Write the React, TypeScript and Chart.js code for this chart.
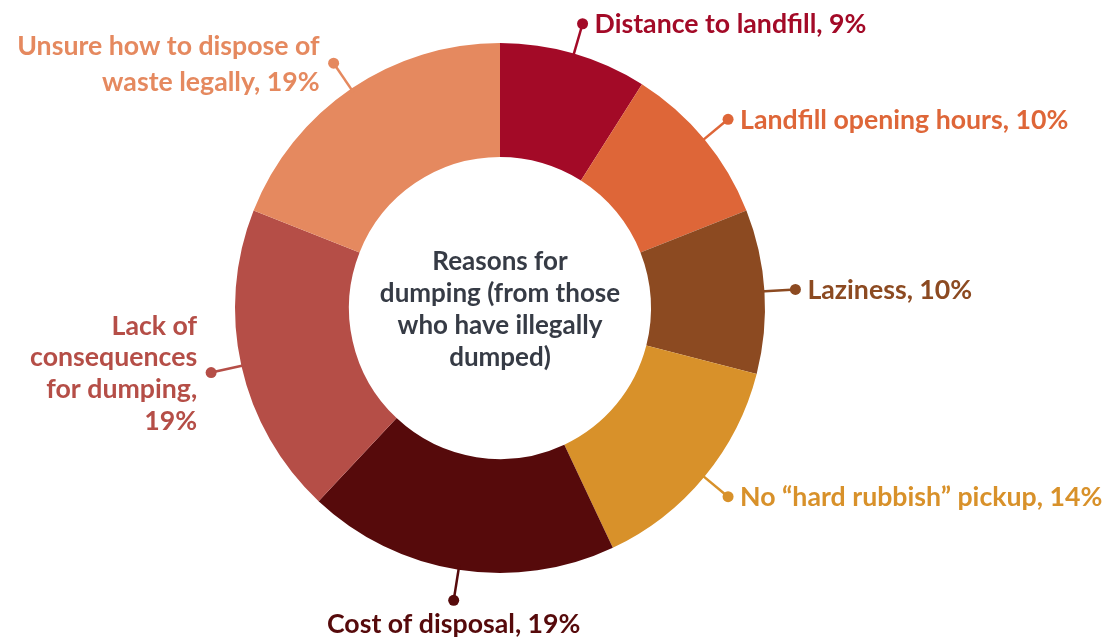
import React, { useEffect, useRef } from "react";
import { Chart, registerables } from "chart.js";

Chart.register(...registerables);

const categories: string[][] = [
  ["Distance to landfill, 9%"],
  ["Landfill opening hours, 10%"],
  ["Laziness, 10%"],
  ["No \u201chard rubbish\u201d pickup, 14%"],
  ["Cost of disposal, 19%"],
  ["Lack of", "consequences", "for dumping,", "19%"],
  ["Unsure how to dispose of", "waste legally, 19%"],
];
const values: number[] = [9, 10, 10, 14, 19, 19, 19];
const colors: string[] = ["#A30A27", "#DE6638", "#8C4A21", "#D8912A", "#560A0B", "#B54E47", "#E5895F"];
const lineHeights: number[] = [32, 32, 32, 32, 32, 31.7, 36];
const centerLines: string[] = ["Reasons for", "dumping (from those", "who have illegally", "dumped)"];
const LABEL_SIZE = 26.7;
const CENTER_SIZE = 26;

const labelPlugin = {
  id: "leaderLabels",
  afterDraw(chart: any) {
    const ctx = chart.ctx;
    const meta = chart.getDatasetMeta(0);
    ctx.save();
    meta.data.forEach((arc: any, i: number) => {
      const { x, y, startAngle, endAngle, outerRadius } = arc.getProps(
        ["x", "y", "startAngle", "endAngle", "outerRadius"],
        true
      );
      const mid = (startAngle + endAngle) / 2;
      const cos = Math.cos(mid);
      const sin = Math.sin(mid);
      const r0 = outerRadius - 4;
      const r1 = outerRadius + 31;
      const x0 = x + cos * r0, y0 = y + sin * r0;
      const x1 = x + cos * r1, y1 = y + sin * r1;
      const color = colors[i];
      ctx.strokeStyle = color;
      ctx.fillStyle = color;
      ctx.lineWidth = 2.5;
      ctx.beginPath();
      ctx.moveTo(x0, y0);
      ctx.lineTo(x1, y1);
      ctx.stroke();
      ctx.beginPath();
      ctx.arc(x1, y1, 5.5, 0, Math.PI * 2);
      ctx.fill();

      const lines = categories[i];
      ctx.font = `bold ${LABEL_SIZE}px Lato`;
      const lh = lineHeights[i];
      const capHalf = LABEL_SIZE * 0.36;
      ctx.textBaseline = "alphabetic";
      if (Math.abs(cos) < 0.2 && sin > 0) {
        ctx.textAlign = "center";
        lines.forEach((l, k) => ctx.fillText(l, x1, y1 + 33 + k * lh));
      } else {
        const right = cos >= 0;
        ctx.textAlign = right ? "left" : "right";
        const tx = right ? x1 + 12 : x1 - 14;
        const top = y1 - ((lines.length - 1) * lh) / 2;
        lines.forEach((l, k) => ctx.fillText(l, tx, top + k * lh + capHalf));
      }
    });
    const cx = (chart.chartArea.left + chart.chartArea.right) / 2;
    const cy = (chart.chartArea.top + chart.chartArea.bottom) / 2;
    ctx.fillStyle = "#363B45";
    ctx.font = `bold ${CENTER_SIZE}px Lato`;
    ctx.textAlign = "center";
    ctx.textBaseline = "alphabetic";
    const clh = 32;
    const ctop = cy + 1 - ((centerLines.length - 1) * clh) / 2;
    centerLines.forEach((l, k) => ctx.fillText(l, cx, ctop + k * clh + CENTER_SIZE * 0.36));
    ctx.restore();
  },
};

export default function App() {
  const ref = useRef<HTMLCanvasElement>(null);
  useEffect(() => {
    document.body.style.margin = "0";
    const chart = new Chart(ref.current!, {
      type: "doughnut",
      data: {
        labels: categories.map((c) => c.join(" ")),
        datasets: [
          {
            data: values,
            backgroundColor: colors,
            borderWidth: 0,
          },
        ],
      },
      options: {
        animation: false,
        responsive: false,
        maintainAspectRatio: false,
        cutout: "57%",
        layout: { padding: { left: 235, right: 354, top: 43, bottom: 67 } },
        plugins: {
          legend: { display: false },
          tooltip: { enabled: false },
        },
      },
      plugins: [labelPlugin],
    });
    return () => chart.destroy();
  }, []);
  return (
    <div style={{ width: 1119, height: 640, background: "#fff" }}>
      <canvas ref={ref} width={1119} height={640} style={{ display: "block" }} />
    </div>
  );
}
